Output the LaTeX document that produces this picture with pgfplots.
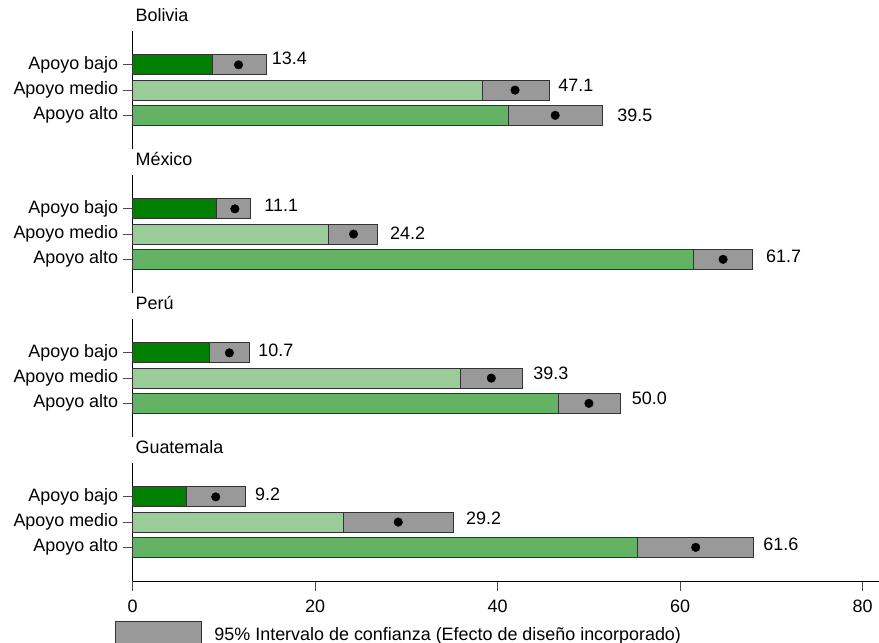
\documentclass[border=0pt]{standalone}
\usepackage{fontspec}
\setmainfont{Liberation Sans}
\usepackage{pgfplots}
\usepackage{pgfplotstable}
\pgfplotsset{compat=1.18}

\definecolor{bajo}{RGB}{0,128,0}
\definecolor{medio}{RGB}{153,204,153}
\definecolor{alto}{RGB}{100,178,100}
\definecolor{ci}{RGB}{153,153,153}

\newcommand\lbl{\fontsize{18}{21}\selectfont}

% row lo hi est | label position (lx, ly) and text
\pgfplotstableread{
row lo   hi   est  lx    ly   lab
1   8.7  14.6 11.6 15.23 0.76 13.4
2   38.3 45.7 41.9 46.64 1.80 47.1
3   41.2 51.5 46.3 53.10 3.00 39.5
}\bolivia
\pgfplotstableread{
row lo   hi   est  lx    ly   lab
1   9.2  12.9 11.2 14.42 0.87 11.1
2   21.5 26.8 24.2 28.20 1.96 24.2
3   61.5 67.9 64.7 69.40 2.89 61.7
}\mexico
\pgfplotstableread{
row lo   hi   est  lx    ly   lab
1   8.4  12.8 10.6 13.76 0.88 10.7
2   35.9 42.7 39.3 43.90 1.80 39.3
3   46.6 53.4 50.0 54.68 2.82 50.0
}\peru
\pgfplotstableread{
row lo   hi   est  lx    ly   lab
1   5.9  12.4 9.1  13.40 0.89 9.2
2   23.1 35.2 29.1 36.53 1.86 29.2
3   55.3 68.0 61.7 69.10 2.88 61.6
}\guatemala

\pgfplotsset{
  panel/.style={
    scale only axis, width=748.25bp, height=117.8bp,
    anchor=north west,
    xmin=0, xmax=82, ymin=-0.3333, ymax=4.3333, y dir=reverse,
    axis y line*=left,
    ytick={1,2,3}, yticklabels={Apoyo bajo,Apoyo medio,Apoyo alto},
    tick align=outside, major tick length=9.5bp,
    tick style={black!70, line width=0.8bp},
    axis line style={black, line width=1bp},
    every tick label/.append style={font=\lbl},
    yticklabel style={xshift=-1.5bp},
    xticklabel style={yshift=-5.5bp},
    /pgf/number format/assume math mode=true,
    title style={at={(0,1)}, anchor=base west, xshift=2.7bp, yshift=3.5bp,
      inner sep=0pt, font=\lbl},
    clip=false,
  },
  cibar/.style={xbar, bar shift=0pt, bar width=20bp, draw=black!80,
    line width=0.8bp, forget plot},
}

\newcommand\panelplots[1]{%
  \addplot[cibar, fill=ci] table[x=hi, y=row] {#1};
  \addplot[cibar, fill=bajo, skip coords between index={1}{3}] table[x=lo, y=row] {#1};
  \addplot[cibar, fill=medio, skip coords between index={0}{1},
    skip coords between index={2}{3}] table[x=lo, y=row] {#1};
  \addplot[cibar, fill=alto, skip coords between index={0}{2}] table[x=lo, y=row] {#1};
  \addplot[only marks, mark=*, mark size=4.3bp, black, forget plot] table[x=est, y=row] {#1};
  \addplot[draw=none, mark=none, forget plot, nodes near coords,
    point meta=explicit symbolic,
    nodes near coords style={anchor=west, inner sep=0pt, font=\lbl, black}]
    table[x=lx, y=ly, meta=lab] {#1};
}

\begin{document}
\begin{tikzpicture}
\useasboundingbox (-132.7bp,31.2bp) rectangle (746.3bp,-611.8bp);

\begin{axis}[panel, hide x axis, at={(0bp,0bp)}, title={Bolivia}]
  \panelplots{\bolivia}
\end{axis}

\begin{axis}[panel, hide x axis, at={(0bp,-144bp)}, title={México}]
  \panelplots{\mexico}
\end{axis}

\begin{axis}[panel, hide x axis, at={(0bp,-288bp)}, title={Perú}]
  \panelplots{\peru}
\end{axis}

\begin{axis}[panel, at={(0bp,-432bp)}, title={Guatemala},
  axis x line*=bottom, xtick={0,20,40,60,80},
  legend style={at={(-0.02366,-0.337)}, anchor=north west, draw=none,
    fill=none, inner sep=0pt, font=\lbl, legend cell align=left},
  ]
  \panelplots{\guatemala}
  \addlegendimage{legend image code/.code={
    \draw[fill=ci, draw=black!80, line width=0.8bp] (0bp,-9.7bp) rectangle (85.7bp,13.1bp);
    \path (96.7bp,0bp);}}
  \addlegendentry{95\% Intervalo de confianza (Efecto de diseño incorporado)}
\end{axis}
\end{tikzpicture}
\end{document}
